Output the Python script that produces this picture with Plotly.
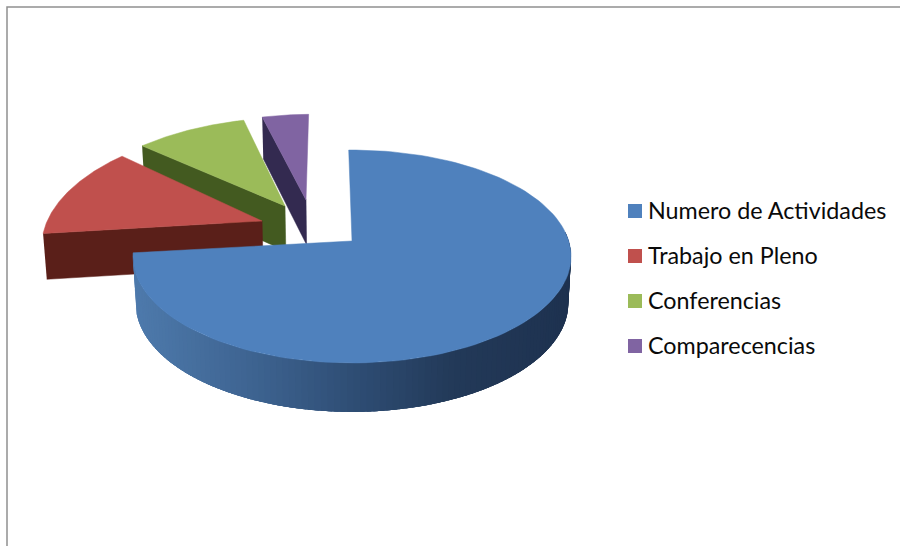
import numpy as np
import plotly.graph_objects as go

categories = ["Numero de Actividades", "Trabajo en Pleno", "Conferencias", "Comparecencias"]
values = [73.5, 13.0, 9.5, 4.0]

top_colors = ["#4f81bd", "#c0504d", "#9bbb59", "#8064a2"]
cut_colors = ["#27405f", "#5a1f19", "#435a20", "#332a50"]

# explode offset and radius of each slice on the pie's ground plane
explode_u = [0.0, -0.427, -0.325, -0.225]
explode_v = [0.0, 0.1975, 0.353, 0.417]
radius_u = [1.0, 1.02, 1.04, 1.04]
radius_v = [1.0, 1.12, 1.08, 1.06]
start_rotation = -1.0

# perspective of the ground plane, in page pixels
X0, Y0 = 352.0, 241.0
A, F, K = 216.7, 104.2, 0.1455

rim_x = [135, 250, 350, 450, 570]
rim_r = [78, 62, 47, 35, 30]
rim_g = [122, 100, 78, 58, 50]
rim_b = [172, 145, 117, 89, 80]


def project(u, v, bottom=False):
    u, v = np.asarray(u, dtype=float), np.asarray(v, dtype=float)
    s = 1 / (1 + K * v)
    x = X0 + A * u * s
    y = Y0 - F * v * s
    if bottom:
        x = X0 + (x - X0) * 0.988
        y = y + 46 - 3 * v
    return x, y


def arc(i, a0, a1, n=120):
    t = np.radians(np.linspace(a0, a1, n))
    return explode_u[i] + radius_u[i] * np.sin(t), explode_v[i] + radius_v[i] * np.cos(t)


fig = go.Figure()


def poly(x, y, color, width=0.5):
    fig.add_trace(
        go.Scatter(
            x=list(x),
            y=list(y),
            mode="lines",
            fill="toself",
            fillcolor=color,
            line=dict(color=color, width=width),
            showlegend=False,
            hoverinfo="skip",
        )
    )


angles = np.cumsum([0] + values) / sum(values) * 360 + start_rotation

# back slices first, the big one last
for i in [3, 2, 1, 0]:
    du, dv = explode_u[i], explode_v[i]
    a0, a1 = angles[i], angles[i + 1]

    if i == 0:
        # front rim, shaded from left to right, each strip overlaps the next
        steps = np.arange(a1, 85, -1.5)
        for hi, lo in zip(steps[:-1], steps[1:]):
            u, v = arc(i, max(lo - 4, 85), hi, 8)
            tx, ty = project(u, v)
            bx, by = project(u, v, bottom=True)
            mid = tx[-1]
            c = "rgb(%d,%d,%d)" % (
                np.interp(mid, rim_x, rim_r),
                np.interp(mid, rim_x, rim_g),
                np.interp(mid, rim_x, rim_b),
            )
            poly(np.r_[tx, bx[::-1]], np.r_[ty, by[::-1]], c, width=0)
    else:
        # cut face that looks at the viewer
        ou, ov = arc(i, a0, a0, 1)
        tx, ty = project(np.r_[ou, du], np.r_[ov, dv])
        bx, by = project(np.r_[ou, du], np.r_[ov, dv], bottom=True)
        poly(np.r_[tx, bx[::-1]], np.r_[ty, by[::-1]], cut_colors[i])

    u, v = arc(i, a0, a1)
    x, y = project(np.r_[du, u, du], np.r_[dv, v, dv])
    poly(x, y, top_colors[i])

# legend
legend_x = 635
legend_y = [211, 256, 301, 346]
for name, color, ly in zip(categories, top_colors, legend_y):
    fig.add_trace(
        go.Scatter(
            x=[legend_x],
            y=[ly],
            mode="markers",
            marker=dict(symbol="square", size=14, color=color),
            name=name,
            showlegend=False,
            hoverinfo="skip",
        )
    )
    fig.add_annotation(
        x=legend_x + 13,
        y=ly - 1,
        text=name,
        showarrow=False,
        xanchor="left",
        yanchor="middle",
        xshift=-2,
        font=dict(family="Lato", size=23.3, color="#0a0a0a"),
    )

fig.update_layout(
    width=900,
    height=546,
    margin=dict(l=0, r=0, t=0, b=0),
    paper_bgcolor="white",
    plot_bgcolor="white",
    showlegend=False,
    xaxis=dict(range=[0, 900], visible=False, fixedrange=True),
    yaxis=dict(range=[546, 0], visible=False, fixedrange=True),
    shapes=[
        dict(
            type="path",
            path="M 7 546 L 7 7 L 900 7",
            line=dict(color="#909090", width=1.5),
        )
    ],
)

fig.write_html(
    "out.html",
    config={"displayModeBar": False},
    post_script="document.body.style.margin='0';",
)
